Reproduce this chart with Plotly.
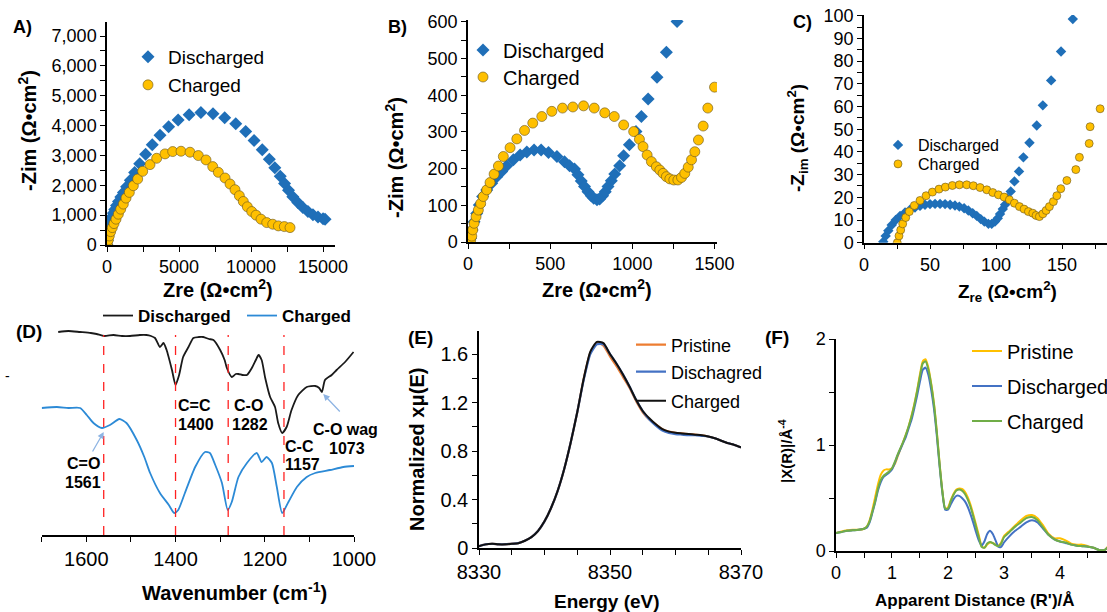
import plotly.graph_objects as go

# ---------------- DATA ----------------
# Panel A (Nyquist, full)
A_dis_zre = [0, 20, 50, 90, 140, 200, 270, 350, 440, 540, 660, 800, 960, 1140, 1360, 1620, 1920, 2270, 2680, 3140, 3680, 4280, 4940, 5700, 6520, 7360, 8170, 8940, 9630, 10210, 10780, 11270, 11650, 12030, 12330, 12600, 12900, 13250, 13600, 13950, 14300, 14650, 15000, 15140]
A_dis_zim = [0, 150, 300, 440, 580, 710, 830, 950, 1070, 1190, 1320, 1460, 1610, 1760, 1950, 2170, 2430, 2720, 3040, 3360, 3680, 3960, 4190, 4360, 4440, 4400, 4260, 4060, 3800, 3500, 3190, 2870, 2590, 2300, 2060, 1830, 1620, 1420, 1260, 1120, 1010, 940, 880, 860]
A_chg_zre = [0, 21, 90, 160, 255, 370, 486, 625, 787, 949, 1134, 1319, 1551, 1829, 2130, 2477, 2986, 3449, 4028, 4560, 5139, 5764, 6340, 6875, 7340, 7730, 8194, 8542, 8889, 9190, 9465, 9745, 10049, 10347, 10694, 11090, 11505, 11896, 12313, 12708]
A_chg_zim = [0, 24, 168, 303, 448, 583, 718, 865, 1032, 1200, 1370, 1571, 1762, 1986, 2211, 2468, 2693, 2905, 3052, 3130, 3141, 3108, 2996, 2850, 2626, 2434, 2245, 2043, 1852, 1650, 1458, 1279, 1121, 1000, 865, 751, 696, 640, 617, 583]

# Panel B
B_dis_zre = [16, 24, 37, 53, 69, 89, 114, 144, 175, 205, 236, 276, 317, 358, 402, 445, 490, 541, 587, 618, 648, 669, 689, 709, 730, 750, 765, 785, 801, 819, 835, 852, 872, 893, 923, 947, 982, 1022, 1055, 1096, 1150, 1207, 1272]
B_dis_zim = [10, 33, 55, 78, 101, 124, 142, 160, 178, 192, 208, 224, 237, 245, 251, 251, 244, 233, 219, 208, 199, 183, 166, 151, 137, 126, 119, 115, 117, 126, 137, 151, 167, 185, 208, 235, 265, 301, 342, 390, 449, 517, 601]
B_chg_zre = [16, 23, 29, 37, 49, 63, 77, 93, 114, 134, 159, 185, 215, 256, 297, 344, 394, 449, 510, 575, 638, 703, 768, 832, 890, 947, 1008, 1043, 1065, 1090, 1116, 1146, 1167, 1187, 1207, 1228, 1252, 1277, 1299, 1319, 1340, 1360, 1380, 1402, 1431, 1459, 1500]
B_chg_zim = [5, 16, 33, 51, 69, 87, 105, 124, 142, 162, 185, 207, 233, 257, 281, 304, 324, 342, 356, 365, 368, 371, 365, 352, 342, 319, 301, 280, 260, 237, 219, 205, 196, 187, 178, 172, 169, 169, 176, 187, 204, 224, 246, 278, 316, 365, 422]

# Panel C
C_dis_zre = [14.6, 16.4, 18.4, 21, 24, 27.3, 31.1, 34.8, 38.6, 42.4, 46.2, 50, 53.8, 57.6, 61.4, 65.2, 68.9, 72.2, 75.8, 79, 82.3, 85.4, 88.4, 91.1, 94.2, 96.7, 99.2, 101.3, 103, 105.1, 106.8, 108.6, 111.1, 113.9, 117.4, 120.7, 125.3, 130.8, 135.4, 141.7, 149.2, 158.1]
C_dis_zim = [0.4, 3, 5.3, 7.8, 10, 11.8, 13.3, 14.5, 15.5, 16.2, 16.7, 17, 17.1, 17.1, 17, 16.7, 16.4, 15.9, 15.2, 14.2, 13, 11.8, 10.4, 9.3, 8.3, 8.3, 9.3, 10.8, 12.6, 14.8, 16.7, 19.6, 22.6, 27, 31.4, 37.6, 44, 51.6, 60.5, 71.5, 84.2, 98.5]
C_chg_zre = [25.2, 26.5, 27.8, 29.3, 31.6, 34.3, 38.1, 42.4, 47, 51.8, 56.8, 61.6, 66.9, 72.2, 77.8, 82.8, 87.9, 93, 97.5, 101.8, 106.1, 110.1, 113.9, 117.7, 121.2, 124.5, 127.8, 130.3, 132.8, 135.4, 137.9, 140.4, 143.4, 146, 149, 153.6, 160.4, 163.1, 170.5, 171.2, 178.8]
C_chg_zim = [0, 3, 5.6, 8.3, 11.1, 13.7, 16.4, 18.6, 20.7, 22.3, 23.6, 24.5, 25.2, 25.5, 25.5, 25.1, 24.3, 23.3, 22.1, 21.1, 20.1, 18.9, 17.4, 15.9, 14.8, 13.7, 13, 12, 11.5, 12.7, 14.2, 15.9, 18.1, 20.7, 23.8, 27.4, 32.2, 37.6, 43.7, 51.1, 59]

# Panel D (FTIR, arbitrary offset transmittance)
D_dis_wn = [1663, 1640, 1614, 1590, 1577, 1560, 1539, 1520, 1502, 1480, 1465, 1455, 1446, 1435, 1427, 1420, 1408, 1400, 1392, 1383, 1371, 1360, 1348, 1338, 1325, 1315, 1300, 1290, 1285, 1274, 1265, 1259, 1250, 1240, 1229, 1220, 1214, 1207, 1199, 1188, 1177, 1170, 1161, 1151, 1140, 1125, 1106, 1087, 1078, 1072, 1065, 1050, 1039, 1020, 1001]
D_dis_t = [203, 204, 203, 202, 201, 199, 200, 199, 199, 200, 200, 199, 197, 188, 192, 185, 165, 150, 160, 178, 188, 197, 198, 198, 196, 195, 185, 175, 167, 158, 161, 161, 160, 160, 167, 175, 180, 175, 157, 138, 128, 112, 102, 108, 125, 140, 148, 149, 147, 143, 155, 160, 165, 173, 183]
D_chg_wn = [1700, 1666, 1640, 1614, 1599, 1584, 1565, 1547, 1526, 1510, 1487, 1470, 1457, 1435, 1415, 1403, 1394, 1379, 1356, 1334, 1323, 1311, 1296, 1283, 1274, 1259, 1240, 1218, 1207, 1196, 1184, 1173, 1161, 1147, 1128, 1106, 1087, 1054, 1024, 1000]
D_chg_t = [127, 128, 127, 127, 120, 112, 107, 110, 116, 112, 95, 78, 62, 42, 30, 22, 25, 42, 68, 83, 82, 70, 52, 25, 33, 58, 72, 82, 73, 78, 72, 48, 22, 33, 48, 58, 62, 65, 68, 69]
D_peaks = [1561, 1400, 1282, 1157]
D_peak_top = 200

# Panel E (XANES)
E_energy = [8330, 8331, 8332, 8333, 8334, 8335, 8336, 8337, 8338, 8339, 8340, 8341, 8342, 8343, 8344, 8345, 8346, 8347, 8348, 8349, 8350, 8351, 8352, 8353, 8354, 8355, 8356, 8357, 8358, 8359, 8360, 8361, 8362, 8363, 8364, 8365, 8366, 8367, 8368, 8369, 8370]
E_pristine = [0.015, 0.03, 0.035, 0.03, 0.03, 0.035, 0.04, 0.06, 0.09, 0.14, 0.22, 0.33, 0.47, 0.65, 0.87, 1.12, 1.40, 1.61, 1.69, 1.67, 1.58, 1.50, 1.41, 1.32, 1.21, 1.12, 1.06, 1.02, 0.98, 0.96, 0.95, 0.945, 0.94, 0.935, 0.93, 0.92, 0.905, 0.885, 0.865, 0.85, 0.83]
E_discharged = [0.015, 0.03, 0.035, 0.03, 0.03, 0.035, 0.04, 0.06, 0.09, 0.14, 0.22, 0.33, 0.47, 0.65, 0.87, 1.12, 1.39, 1.60, 1.68, 1.68, 1.60, 1.52, 1.43, 1.33, 1.22, 1.13, 1.06, 1.01, 0.97, 0.95, 0.94, 0.935, 0.93, 0.93, 0.925, 0.92, 0.905, 0.885, 0.865, 0.85, 0.83]
E_charged = [0.015, 0.03, 0.035, 0.03, 0.03, 0.035, 0.04, 0.06, 0.09, 0.14, 0.22, 0.33, 0.47, 0.65, 0.87, 1.12, 1.40, 1.62, 1.70, 1.69, 1.60, 1.52, 1.43, 1.33, 1.22, 1.13, 1.07, 1.02, 0.98, 0.96, 0.95, 0.945, 0.94, 0.935, 0.93, 0.92, 0.905, 0.885, 0.865, 0.85, 0.83]

# Panel F (EXAFS FT)
F_r = [0, 0.1, 0.2, 0.3, 0.4, 0.5, 0.55, 0.6, 0.65, 0.7, 0.75, 0.8, 0.85, 0.9, 0.95, 1.0, 1.05, 1.1, 1.15, 1.2, 1.25, 1.3, 1.35, 1.4, 1.45, 1.5, 1.55, 1.6, 1.65, 1.7, 1.75, 1.8, 1.85, 1.9, 1.95, 2.0, 2.05, 2.1, 2.15, 2.2, 2.25, 2.3, 2.35, 2.4, 2.45, 2.5, 2.55, 2.6, 2.65, 2.7, 2.75, 2.8, 2.85, 2.9, 2.95, 3.0, 3.1, 3.2, 3.3, 3.4, 3.5, 3.6, 3.7, 3.8, 3.9, 4.0, 4.1, 4.2, 4.3, 4.4, 4.5, 4.6, 4.7, 4.8, 4.85]
F_pristine = [0.17, 0.185, 0.195, 0.20, 0.20, 0.21, 0.23, 0.29, 0.39, 0.51, 0.63, 0.72, 0.76, 0.77, 0.77, 0.78, 0.82, 0.89, 0.96, 1.03, 1.10, 1.18, 1.28, 1.39, 1.52, 1.67, 1.79, 1.81, 1.73, 1.58, 1.39, 1.13, 0.83, 0.57, 0.40, 0.41, 0.48, 0.54, 0.58, 0.59, 0.585, 0.56, 0.51, 0.44, 0.35, 0.25, 0.15, 0.05, 0.03, 0.06, 0.08, 0.075, 0.06, 0.05, 0.08, 0.14, 0.19, 0.24, 0.29, 0.33, 0.34, 0.31, 0.24, 0.16, 0.12, 0.12, 0.10, 0.07, 0.06, 0.06, 0.045, 0.03, 0.01, 0.01, 0.04]
F_discharged = [0.17, 0.18, 0.19, 0.195, 0.20, 0.21, 0.22, 0.27, 0.36, 0.46, 0.57, 0.65, 0.70, 0.72, 0.74, 0.77, 0.83, 0.90, 0.96, 1.02, 1.08, 1.16, 1.24, 1.35, 1.47, 1.60, 1.71, 1.73, 1.66, 1.52, 1.34, 1.09, 0.80, 0.55, 0.39, 0.39, 0.44, 0.49, 0.52, 0.52, 0.50, 0.47, 0.42, 0.35, 0.27, 0.18, 0.10, 0.05, 0.09, 0.16, 0.19, 0.16, 0.10, 0.04, 0.04, 0.08, 0.14, 0.19, 0.23, 0.27, 0.29, 0.27, 0.21, 0.15, 0.11, 0.09, 0.075, 0.06, 0.05, 0.045, 0.04, 0.03, 0.01, 0.01, 0.03]
F_charged = [0.17, 0.18, 0.19, 0.195, 0.20, 0.21, 0.23, 0.28, 0.37, 0.47, 0.59, 0.67, 0.71, 0.73, 0.75, 0.78, 0.84, 0.91, 0.97, 1.03, 1.10, 1.18, 1.27, 1.38, 1.51, 1.65, 1.77, 1.79, 1.71, 1.57, 1.38, 1.12, 0.82, 0.56, 0.40, 0.40, 0.47, 0.53, 0.57, 0.58, 0.57, 0.54, 0.49, 0.42, 0.33, 0.23, 0.13, 0.04, 0.03, 0.07, 0.085, 0.075, 0.055, 0.045, 0.07, 0.13, 0.18, 0.23, 0.27, 0.31, 0.32, 0.29, 0.22, 0.15, 0.11, 0.09, 0.08, 0.06, 0.05, 0.045, 0.04, 0.03, 0.01, 0.01, 0.03]

# ---------------- STYLE / LAYOUT HELPERS ----------------
W_PX, H_PX = 1107, 612
FONT = "Liberation Sans, Arial, sans-serif"
BLUE_D = "#1F6FB8"
GOLD = "#FFC000"
GOLD_EDGE = "rgba(110,90,30,0.9)"


def px(x):
    return x / W_PX


def py(y):
    return 1 - y / H_PX


def xdom(a, b):
    return [px(a), px(b)]


def ydom(top, bottom):
    return [py(bottom), py(top)]


fig = go.Figure()


def scat(x, y, name, axis, legend, symbol, color, size, edge=None):
    fig.add_trace(go.Scatter(
        x=x, y=y, name=name, mode="markers",
        xaxis="x" + axis, yaxis="y" + axis, legend=legend,
        marker=dict(symbol=symbol, color=color, size=size,
                    line=dict(color=edge if edge else color, width=0.7 if edge else 0)),
        showlegend=True))


def line(x, y, name, axis, legend, color, width=1.8, smooth=True, show=True):
    fig.add_trace(go.Scatter(
        x=x, y=y, name=name, mode="lines",
        xaxis="x" + axis, yaxis="y" + axis, legend=legend,
        line=dict(color=color, width=width, shape="spline" if smooth else "linear",
                  smoothing=0.6),
        showlegend=show))


# A
scat(A_dis_zre, A_dis_zim, "Discharged", "", "legend", "diamond", BLUE_D, 10)
scat(A_chg_zre, A_chg_zim, "Charged", "", "legend2", "circle", GOLD, 10, GOLD_EDGE)
# B
scat(B_dis_zre, B_dis_zim, "Discharged", "2", "legend3", "diamond", BLUE_D, 10)
scat(B_chg_zre, B_chg_zim, "Charged", "2", "legend4", "circle", GOLD, 10, GOLD_EDGE)
# C
scat(C_dis_zre, C_dis_zim, "Discharged", "3", "legend5", "diamond", BLUE_D, 8)
scat(C_chg_zre, C_chg_zim, "Charged", "3", "legend6", "circle", GOLD, 8, GOLD_EDGE)
# D
line(D_dis_wn, D_dis_t, "Discharged", "4", "legend7", "#1a1a1a", 1.8)
line(D_chg_wn, D_chg_t, "Charged", "4", "legend8", "#2C8AD6", 1.8)
# E
line(E_energy, E_pristine, "Pristine", "5", "legend9", "#ED7D31", 2.2)
line(E_energy, E_discharged, "Dischagred", "5", "legend10", "#4472C4", 2.2)
line(E_energy, E_charged, "Charged", "5", "legend11", "#111111", 2.0)
# F
line(F_r, F_pristine, "Pristine", "6", "legend12", "#FFC000", 2.0)
line(F_r, F_discharged, "Discharged", "6", "legend13", "#4472C4", 2.0)
line(F_r, F_charged, "Charged", "6", "legend14", "#70AD47", 2.0)


def axis(domain, rng, dtick, minor, size, tickformat=None, visible=True, tick0=None):
    d = dict(domain=domain, range=rng, dtick=dtick, showline=True, linecolor="black",
             linewidth=1.5, ticks="outside", ticklen=5, tickwidth=1.2, tickcolor="black",
             showgrid=False, zeroline=False, visible=visible, automargin=False,
             tickfont=dict(family=FONT, size=size, color="black"),
             minor=dict(dtick=minor, ticks="outside", ticklen=5, tickwidth=1.2,
                        tickcolor="black", showgrid=False))
    if tickformat:
        d["tickformat"] = tickformat
    if tick0 is not None:
        d["tick0"] = tick0
    return d


layout = dict(
    width=W_PX, height=H_PX, margin=dict(l=0, r=0, t=0, b=0, autoexpand=False),
    paper_bgcolor="white", plot_bgcolor="white",
    font=dict(family=FONT, color="black"),
    xaxis=axis(xdom(107, 335), [0, 15830], 5000, 2500, 18, "d"),
    yaxis=axis(ydom(22, 245), [0, 7470], 1000, 500, 18, ","),
    xaxis2=axis(xdom(468, 717), [0, 1515], 500, 250, 18, "d"),
    yaxis2=axis(ydom(20, 242), [0, 605], 100, 50, 18),
    xaxis3=axis(xdom(864, 1107), [0, 184], 50, 25, 18),
    yaxis3=axis(ydom(15, 242.7), [0, 100.3], 10, 5, 18),
    xaxis4=axis(xdom(41.7, 354), [1700, 1000], 200, 100, 20, "d", tick0=1000),
    yaxis4=axis(ydom(320, 535), [0, 215], 50, 25, 18, visible=False),
    xaxis5=axis(xdom(479, 741), [8330, 8370], 20, 5, 20, "d", tick0=8330),
    yaxis5=axis(ydom(331, 548), [0, 1.79], 0.4, 0.2, 20),
    xaxis6=axis(xdom(836, 1107), [0, 4.84], 1, 0.5, 18),
    yaxis6=axis(ydom(339, 551), [0, 2.0], 1, 0.5, 18),
)
for i in range(2, 7):
    layout["xaxis%d" % i]["anchor"] = "y%d" % i
    layout["yaxis%d" % i]["anchor"] = "x%d" % i
layout["xaxis"]["anchor"] = "y"
layout["yaxis"]["anchor"] = "x"


def leg(text_left, yc, size, bold=False):
    f = dict(family=FONT, size=size, color="black")
    if bold:
        f["weight"] = "bold"
    return dict(x=px(text_left - 40), y=py(yc), xanchor="left", yanchor="middle",
                bgcolor="rgba(0,0,0,0)", borderwidth=0, font=f, itemwidth=30)


legs = [
    (168, 57, 19), (168, 85, 19),          # A
    (503, 50, 20), (503, 77, 20),          # B
    (918, 145, 16), (918, 164, 16),        # C
]
names = ["legend"] + ["legend%d" % i for i in range(2, 15)]
for nm, (xl, yc, s) in zip(names[:6], legs):
    layout[nm] = leg(xl, yc, s)
layout["legend7"] = leg(138, 316, 17, True)
layout["legend8"] = leg(282, 316, 17, True)
layout["legend9"] = leg(671, 345, 18)
layout["legend10"] = leg(671, 372, 18)
layout["legend11"] = leg(671, 401, 18)
layout["legend12"] = leg(1007, 351, 20)
layout["legend13"] = leg(1007, 386, 20)
layout["legend14"] = leg(1007, 421, 20)

fig.update_layout(**layout)

# Dashed marker lines in D
for p in D_peaks:
    fig.add_shape(type="line", xref="x4", yref="y4", x0=p, x1=p, y0=0, y1=D_peak_top,
                  line=dict(color="#FF2020", width=1.3, dash="dash"))


def ann(text, x, y, size, bold=True, angle=0, xanchor="center", color="black"):
    fig.add_annotation(text=("<b>%s</b>" % text) if bold else text, x=px(x), y=py(y),
                       xref="paper", yref="paper", showarrow=False, textangle=angle,
                       xanchor=xanchor, yanchor="middle",
                       font=dict(family=FONT, size=size, color=color))


# Axis titles
ann("Zre (Ω•cm<sup>2</sup>)", 218, 288, 20)
ann("-Zim (Ω•cm<sup>2</sup>)", 27, 131, 20, angle=-90)
ann("Zre (Ω•cm<sup>2</sup>)", 597, 288, 20)
ann("-Zim (Ω•cm<sup>2</sup>)", 395, 158, 20, angle=-90)
ann("Z<sub>re</sub> (Ω•cm<sup>2</sup>)", 1007, 291, 19)
ann("-Z<sub>im</sub> (Ω•cm<sup>2</sup>)", 798, 138, 19, angle=-90)
ann("Wavenumber (cm<sup>-1</sup>)", 234, 591, 20)
ann("Energy (eV)", 607, 601, 19)
ann("Normalized xμ(E)", 417, 450, 20, angle=-90)
ann("Apparent Distance (R')/Å", 975, 600, 17)
ann("|X(R)|/Å<sup>-4</sup>", 785, 451, 15, angle=-90)

# Panel labels
ann("A)", 22, 27, 18)
ann("B)", 397, 27, 18)
ann("C)", 802, 22, 18)
ann("(D)", 29, 331, 19)
ann("(E)", 420, 337, 19)
ann("(F)", 777, 337, 19)
ann("-", 7, 376, 14, bold=False)

# Peak labels in D
for t, xl, yc in [("C=C", 176, 405), ("1400", 176, 424), ("C-O", 232, 405), ("1282", 230, 424),
                  ("C-C", 283, 446), ("1157", 283, 464), ("C-O wag", 311, 430), ("1073", 327, 449),
                  ("C=O", 65, 463), ("1561", 63, 482)]:
    ann(t, xl, yc, 16, xanchor="left")

# Arrows in D
for (x, y, ax, ay) in [(1561, 103, -12, 21), (1069, 141, 18, 19)]:
    fig.add_annotation(x=x, y=y, xref="x4", yref="y4", text="", showarrow=True,
                       ax=ax, ay=ay, arrowhead=2, arrowsize=1, arrowwidth=1.3,
                       arrowcolor="#8EB4E3", standoff=0)

fig.write_html("out.html")
